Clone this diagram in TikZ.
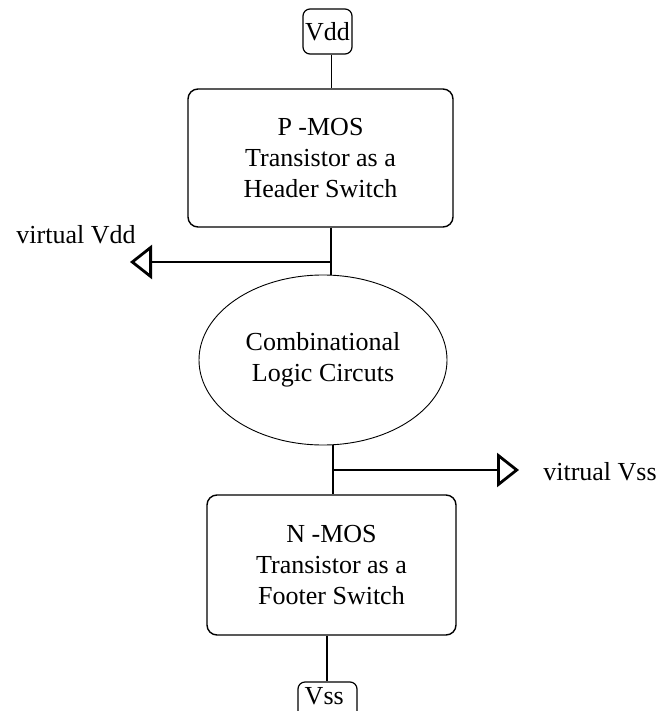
\documentclass[tikz,border=0pt]{standalone}
\usepackage{fontspec}
\setmainfont{Liberation Serif}
\usetikzlibrary{shapes.geometric,arrows.meta}

\begin{document}
\begin{tikzpicture}[x=1pt,y=-1pt,
    every node/.style={font=\fontsize{26}{31}\selectfont},
    block/.style={draw,line width=1.4pt,rounded corners=10pt,align=center,inner sep=0pt},
    supply/.style={draw,line width=1.2pt,rounded corners=7pt,inner sep=0pt},
    wire/.style={line width=1pt},
    bus/.style={line width=2.8pt},
    tap/.style={bus,-{Triangle[open,length=22pt,width=34pt]}}]
    \clip (0,0) rectangle (662,711);

    % Supply rails
    \node[supply,minimum width=49pt,minimum height=45pt] (vdd) at (327.5,31.5) {Vdd};
    \node[supply,minimum width=59pt,minimum height=36pt,text depth=8pt] (vss) at (327.5,700) {Vss\ \ };

    % Switches and logic
    \node[block,minimum width=265pt,minimum height=138pt] (pmos) at (320.5,158)
        {P -MOS\\ Transistor as a\\Header Switch};
    \node[draw,ellipse,line width=0.9pt,minimum width=248pt,minimum height=170pt,align=center,inner sep=0pt]
        (logic) at (323,360) {Combinational\\Logic Circuts};
    \node[block,minimum width=249pt,minimum height=140pt] (nmos) at (331.5,565)
        {N -MOS\\Transistor as a\\Footer Switch};

    % Junctions and virtual rails
    \coordinate (jtop) at (331,262);
    \coordinate (jbot) at (333,470);
    \coordinate (jvss) at (327,660);
    \coordinate (vddtip) at (130,262);
    \coordinate (vsstip) at (519,470);
    \node[anchor=base] (vddlabel) at (76,243) {virtual Vdd};
    \node[anchor=base] (vsslabel) at (600,480) {vitrual Vss};

    % Connectors
    \draw[wire] (vdd.south -| jtop) -- (pmos.north -| jtop);
    \draw[bus] (pmos.south -| jtop) -- (logic.north -| jtop);
    \draw[tap] (jtop) -- (vddtip);
    \draw[bus] (logic.south -| jbot) -- (nmos.north -| jbot);
    \draw[tap] (jbot) -- (vsstip);
    \draw[bus] (nmos.south -| jvss) -- (vss.north -| jvss);
\end{tikzpicture}
\end{document}
